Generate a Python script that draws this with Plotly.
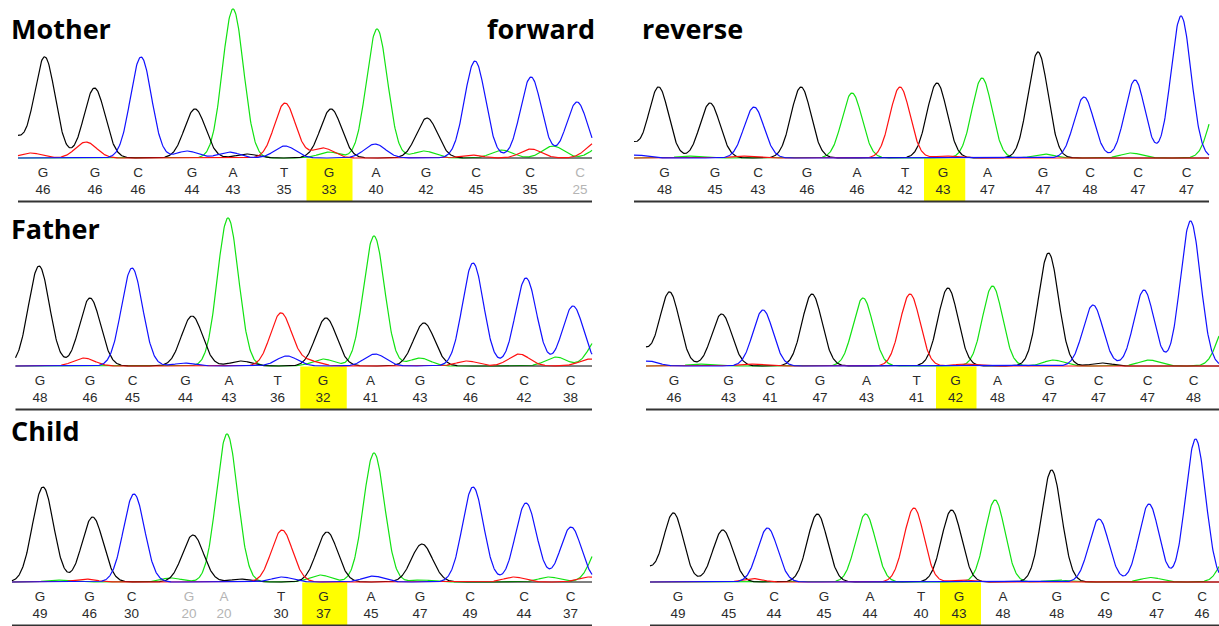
import numpy as np
import plotly.graph_objects as go

W, H = 1219, 626

# ---------------- Mother ----------------
mother_fwd_bases = list("GGCGATGAGCCC")
mother_fwd_qv = [46, 46, 46, 44, 43, 35, 33, 40, 42, 45, 35, 25]
mother_fwd_call_pos = [43, 95, 138, 192, 233, 284, 329, 376, 426, 476, 530, 580]
mother_fwd_peak_pos = [44.7, 94.5, 141, 195, 233, 285, 331, 377, 427, 475, 531, 577]
mother_fwd_peak_h = [101, 70, 101, 49, 149, 55, 49, 129, 40, 97, 81, 56]
mother_fwd_minor = [("T", 31, 5), ("T", 86, 16), ("C", 187, 7), ("C", 229, 6), ("G", 247, 4),
                    ("C", 285, 12), ("T", 323, 10), ("A", 329, 6), ("C", 375, 14), ("A", 424, 7),
                    ("T", 471, 3), ("A", 502, 8), ("T", 531, 9), ("A", 553, 12), ("T", 597, 16),
                    ("A", 602, 12), ("G", 12, 22)]
mother_fwd_span = (18, 592)

mother_rev_bases = list("GGCGATGAGCCC")
mother_rev_qv = [48, 45, 43, 46, 46, 42, 43, 47, 47, 48, 47, 47]
mother_rev_call_pos = [54.5, 105, 148, 197, 247, 295, 333, 377.5, 433, 480, 528, 576.5]
mother_rev_peak_pos = [48.6, 100, 144, 191, 242, 290, 327, 372, 428, 474, 525, 571]
mother_rev_peak_h = [71, 55, 51, 71, 65, 71, 75, 80, 106, 61, 78, 142]
mother_rev_minor = [("C", 26, 3), ("A", 78, 2), ("T", 132, 2), ("T", 335, 2), ("A", 434, 4),
                    ("A", 521, 5), ("A", 610, 62), ("G", 16, 18)]
mother_rev_span = (24, 599)

# ---------------- Father ----------------
father_fwd_bases = list("GGCGATGAGCCC")
father_fwd_qv = [48, 46, 45, 44, 43, 36, 32, 41, 43, 46, 42, 38]
father_fwd_call_pos = [40, 90, 132.5, 185.5, 229, 277.5, 323, 370.5, 420, 470.5, 524, 570.5]
father_fwd_peak_pos = [39, 90, 132, 192, 228, 281, 326, 374, 424, 473, 526, 573]
father_fwd_peak_h = [100, 68, 98, 50, 148, 53, 48, 130, 43, 103, 88, 60]
father_fwd_minor = [("T", 84, 8), ("C", 185, 3), ("G", 241, 5), ("C", 287, 10), ("T", 309, 5),
                    ("A", 323, 7), ("C", 375, 12), ("A", 420, 8), ("T", 467, 5), ("T", 519, 12),
                    ("A", 556, 9), ("T", 590, 7), ("A", 600, 30)]
father_fwd_span = (15.5, 592)

father_rev_bases = list("GGCGATGAGCCC")
father_rev_qv = [46, 43, 41, 47, 43, 41, 42, 48, 47, 47, 47, 48]
father_rev_call_pos = [64, 118.5, 160, 210, 256.5, 306.5, 345.5, 387.5, 439.5, 488.5, 537.5, 583.5]
father_rev_peak_pos = [59.5, 111.7, 153, 202, 253, 300, 338, 382.5, 438.5, 483, 534, 580.5]
father_rev_peak_h = [74, 52, 56, 72, 68, 72, 78, 80, 113, 61, 76, 145]
father_rev_minor = [("C", 38, 5), ("A", 89, 2), ("T", 140, 2), ("T", 354, 2), ("A", 443.5, 6),
                    ("G", 492, 3), ("A", 539, 6), ("A", 618, 45), ("G", 28, 20)]
father_rev_span = (36, 609)

# ---------------- Child ----------------
child_fwd_bases = list("GGCGATGAGCCC")
child_fwd_qv = [49, 46, 30, 20, 20, 30, 37, 45, 47, 49, 44, 37]
child_fwd_call_pos = [40, 89.5, 131.5, 189, 224, 281, 323.5, 371, 420, 470, 524, 570.5]
child_fwd_peak_pos = [43, 92.6, 134, 193, 227, 282, 327, 374, 422, 473, 526, 571]
child_fwd_peak_h = [95, 65, 88, 47, 148, 52, 50, 129, 38, 95, 79, 55]
child_fwd_minor = [("A", 56, 2), ("T", 85, 3), ("A", 171, 4), ("G", 241, 3), ("C", 282, 5),
                   ("A", 320, 7), ("C", 373, 6), ("A", 422, 2), ("T", 514, 5), ("A", 549, 5),
                   ("T", 589, 5), ("A", 602, 40)]
child_fwd_span = (12, 592)

child_rev_bases = list("GGCGATGAGCCC")
child_rev_qv = [49, 45, 44, 45, 44, 40, 43, 48, 48, 49, 47, 46]
child_rev_call_pos = [68, 118.7, 164, 214, 260, 311, 349, 393, 446.7, 495, 546.7, 592]
child_rev_peak_pos = [63.4, 112.8, 157.6, 207.4, 255.6, 304, 341.6, 385, 441.6, 489, 539, 585.6]
child_rev_peak_h = [69, 52, 54, 68, 68, 74, 72, 82, 112, 63, 78, 143]
child_rev_minor = [("T", 142, 3.5), ("T", 352, 2), ("A", 447, 2), ("A", 541, 4.5), ("A", 622, 36),
                   ("G", 32, 16)]
child_rev_span = (40, 609)

# highlighted call (0-based) in every read
highlight_index = 6
low_quality_cutoff = 30

# row geometry in page pixels: (top, baseline, bottom)
rows = {"Mother": (0, 158, 205), "Father": (205, 366, 414), "Child": (414, 582, 626)}

COLORS = {"A": "#12e212", "C": "#1010ff", "G": "#000000", "T": "#ff1010"}
DRAW_ORDER = ["A", "G", "T", "C"]

panels = [
    ("Mother", "fwd", mother_fwd_bases, mother_fwd_qv, mother_fwd_call_pos, mother_fwd_peak_pos,
     mother_fwd_peak_h, mother_fwd_minor, mother_fwd_span),
    ("Mother", "rev", mother_rev_bases, mother_rev_qv, mother_rev_call_pos, mother_rev_peak_pos,
     mother_rev_peak_h, mother_rev_minor, mother_rev_span),
    ("Father", "fwd", father_fwd_bases, father_fwd_qv, father_fwd_call_pos, father_fwd_peak_pos,
     father_fwd_peak_h, father_fwd_minor, father_fwd_span),
    ("Father", "rev", father_rev_bases, father_rev_qv, father_rev_call_pos, father_rev_peak_pos,
     father_rev_peak_h, father_rev_minor, father_rev_span),
    ("Child", "fwd", child_fwd_bases, child_fwd_qv, child_fwd_call_pos, child_fwd_peak_pos,
     child_fwd_peak_h, child_fwd_minor, child_fwd_span),
    ("Child", "rev", child_rev_bases, child_rev_qv, child_rev_call_pos, child_rev_peak_pos,
     child_rev_peak_h, child_rev_minor, child_rev_span),
]

LETTER_Y = -15.5
QV_Y = -32.5
RULE_Y = -43.5

fig = go.Figure()
layout_axes = {}
shapes = []

for i, (who, strand, bases, qv, calls, ppos, ph, minor, span) in enumerate(panels):
    n = i + 1
    xa = "x" if n == 1 else f"x{n}"
    ya = "y" if n == 1 else f"y{n}"
    xkey = "xaxis" if n == 1 else f"xaxis{n}"
    ykey = "yaxis" if n == 1 else f"yaxis{n}"
    top, base, bottom = rows[who]
    if strand == "fwd":
        xdom, xrng, sigma = [0, 610 / W], [0, 610], 10.5
    else:
        xdom, xrng, sigma = [610 / W, 1], [0, 609], 10.0
    ydom = [1 - bottom / H, 1 - top / H]
    yrng = [-(bottom - base), base - top]
    ax = dict(visible=False, showgrid=False, zeroline=False, fixedrange=True)
    layout_axes[xkey] = dict(ax, domain=xdom, range=xrng, anchor=ya)
    layout_axes[ykey] = dict(ax, domain=ydom, range=yrng, anchor=xa)

    # one trace per dye channel, built from its called and secondary peaks
    scan = np.arange(span[0], span[1] + 0.25, 0.5)
    for ch in DRAW_ORDER:
        sig = np.zeros_like(scan)
        for b, p, h in zip(bases, ppos, ph):
            if b == ch:
                sig += h * np.exp(-0.5 * ((scan - p) / sigma) ** 2)
        for b, p, h in minor:
            if b == ch:
                sig += h * np.exp(-0.5 * ((scan - p) / sigma) ** 2)
        fig.add_trace(go.Scatter(x=scan, y=sig, mode="lines", xaxis=xa, yaxis=ya,
                                 line=dict(color=COLORS[ch], width=1.2), hoverinfo="skip"))

    tcol = ["#b4b4b4" if q < low_quality_cutoff else "#2b2b2b" for q in qv]
    fig.add_trace(go.Scatter(x=calls, y=[LETTER_Y] * len(calls), mode="text", text=bases,
                             textfont=dict(family="Liberation Sans", size=13.5, color=tcol),
                             xaxis=xa, yaxis=ya, hoverinfo="skip"))
    fig.add_trace(go.Scatter(x=calls, y=[QV_Y] * len(calls), mode="text",
                             text=[str(q) for q in qv],
                             textfont=dict(family="Liberation Sans", size=13.5, color=tcol),
                             xaxis=xa, yaxis=ya, hoverinfo="skip"))

    k = highlight_index
    x0 = (calls[k - 1] + calls[k]) / 2
    x1 = (calls[k] + calls[k + 1]) / 2
    shapes.append(dict(type="rect", xref=xa, yref=ya, x0=x0, x1=x1, y0=RULE_Y, y1=-0.5,
                       fillcolor="#ffff00", line=dict(width=0), layer="below"))
    shapes.append(dict(type="line", xref=xa, yref=ya, x0=span[0], x1=span[1], y0=RULE_Y, y1=RULE_Y,
                       line=dict(color="#333333", width=2)))

title_font = dict(family="Open Sans", size=27, color="#000000")
annotations = [
    dict(text="<b>Mother</b>", x=9 / W, y=1 - 29 / H, xanchor="left", yanchor="middle"),
    dict(text="<b>forward</b>", x=597 / W, y=1 - 29 / H, xanchor="right", yanchor="middle"),
    dict(text="<b>reverse</b>", x=640 / W, y=1 - 29 / H, xanchor="left", yanchor="middle"),
    dict(text="<b>Father</b>", x=9 / W, y=1 - 228 / H, xanchor="left", yanchor="middle"),
    dict(text="<b>Child</b>", x=9 / W, y=1 - 430 / H, xanchor="left", yanchor="middle"),
]
for a in annotations:
    a.update(xref="paper", yref="paper", showarrow=False, font=title_font)

fig.update_layout(width=W, height=H, margin=dict(l=0, r=0, t=0, b=0),
                  paper_bgcolor="white", plot_bgcolor="white", showlegend=False,
                  shapes=shapes, annotations=annotations, **layout_axes)

fig.write_html("out.html")
